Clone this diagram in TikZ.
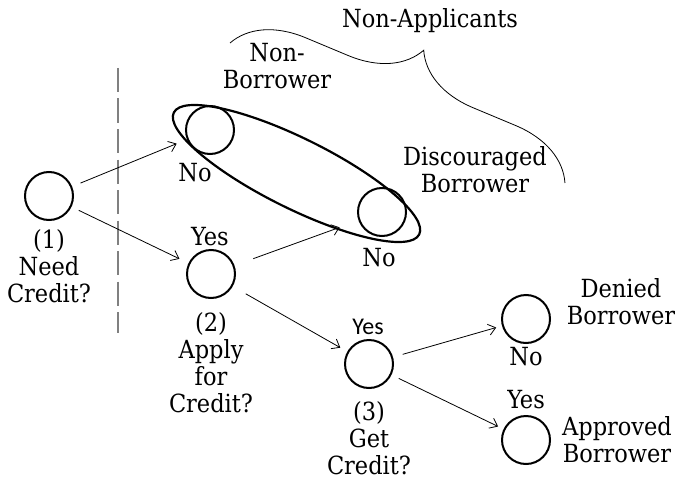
\documentclass[tikz,border=0pt]{standalone}
\usepackage{fontspec}
\setmainfont{DejaVu Serif Condensed}
\newfontfamily\yesfont{Carlito}
\usetikzlibrary{arrows.meta,decorations.pathreplacing}
\begin{document}
\begin{tikzpicture}[x=1pt,y=-1pt,
  state/.style={circle,draw,line width=2pt,minimum size=48pt,inner sep=0pt},
  lbl/.style={font=\fontsize{25}{27}\selectfont,align=center,inner sep=0pt},
  arr/.style={line width=0.8pt,-{Straight Barb[length=7pt,width=11pt]}},
  grp/.style={draw,line width=2.2pt},
  divider/.style={draw=gray,line width=1.6pt,dash pattern=on 24pt off 6.5pt},
  bracestyle/.style={draw,line width=0.8pt,decorate,decoration={brace,amplitude=68pt}}
  ]
\useasboundingbox (0,0) rectangle (676,484);
% divider
\coordinate (dtop) at (118,68);
\coordinate (dbot) at (118,333);
\draw[divider] (dtop) -- (dbot);
% states
\node[state] (n1) at (49,196) {};
\node[state] (nb) at (210,130) {};
\node[state] (db) at (382,212) {};
\node[state] (n2) at (211,274) {};
\node[state] (n3) at (369,364) {};
\node[state] (de) at (526,319) {};
\node[state] (ap) at (526,440) {};
% group ellipse
\draw[grp,rotate around={-26.4:(296.5,173.5)}] (296.5,173.5) ellipse [x radius=137pt, y radius=35pt];
% labels
\node[lbl] (l1) at (49,266) {(1)\\Need\\Credit?};
\node[lbl] (nbno) at (195,173) {No};
\node[lbl] (dbno) at (379,258) {No};
\node[lbl] (n2yes) at (210,237) {Yes};
\node[lbl] (l2) at (211,363) {(2)\\Apply\\for\\Credit?};
\node[lbl,font=\yesfont\fontsize{24}{26}\selectfont] (n3yes) at (368,327) {Yes};
\node[lbl] (l3) at (369,438) {(3)\\Get\\Credit?};
\node[lbl] (deno) at (526,357) {No};
\node[lbl] (apyes) at (526,400) {Yes};
\node[lbl] (detxt) at (621,302) {Denied\\Borrower};
\node[lbl] (aptxt) at (617,440) {Approved\\Borrower};
\node[lbl] (nbtxt) at (277,66) {Non-\\Borrower};
\node[lbl] (dbtxt) at (475,170) {Discouraged\\Borrower};
\node[lbl] (natxt) at (430,21) {Non-Applicants};
% brace
\coordinate (bl) at (230,43);
\coordinate (br) at (565,183);
\draw[bracestyle] (bl) -- (br);
% arrows
\draw[arr,shorten <=9pt,shorten >=11pt] (n1) -- (nb);
\draw[arr,shorten <=8pt,shorten >=10pt] (n1) -- (n2);
\draw[arr,shorten <=20pt,shorten >=20pt] (n2) -- (db);
\draw[arr,shorten <=15pt,shorten >=8pt] (n2) -- (n3);
\draw[arr,shorten <=10pt,shorten >=6pt] (n3) -- (de);
\draw[arr,shorten <=8pt,shorten >=6pt] (n3) -- (ap);
\end{tikzpicture}
\end{document}
